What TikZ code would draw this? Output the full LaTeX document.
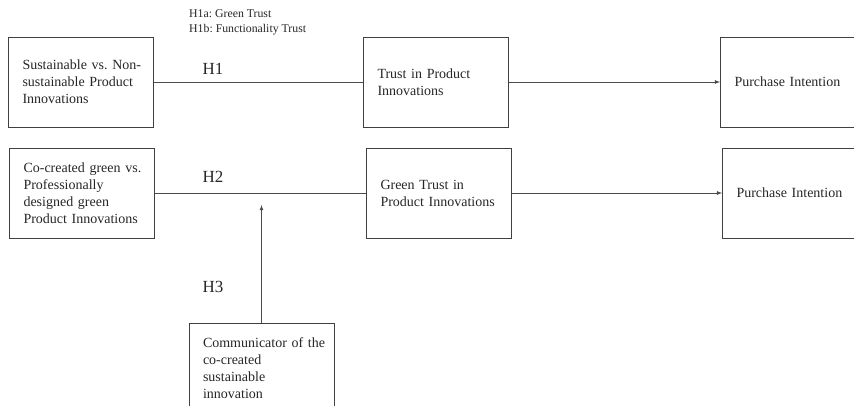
\documentclass[tikz,border=0pt]{standalone}
\usepackage{fontspec}
\setmainfont{Liberation Serif}
\usepackage{tikz}
\usetikzlibrary{positioning,arrows}
\frenchspacing

\begin{document}
\begin{tikzpicture}[x=1pt,y=1pt,every node/.style={on grid},
    box/.style={draw=black!75,line width=0.8pt,rectangle,minimum width=145pt,
      minimum height=90pt,text width=117pt,inner xsep=14pt,align=left,
      text=black!85,font=\fontsize{14}{17}\selectfont},
    hyp/.style={text=black!85,font=\fontsize{17}{20}\selectfont},
    link/.style={draw=black!70,line width=0.8pt}]
    \useasboundingbox (0,0) rectangle (854,-405);
    \node[box] (sus) at (81,-82) {\mbox{Sustainable vs. Non-}\\\mbox{sustainable Product}\\Innovations};
    \node[box,right=355pt of sus] (trust) {Trust in Product\\Innovations};
    \node[box,right=357pt of trust] (buyA) {Purchase Intention};
    \node[box] (cocr) at (82,-193) {\mbox{Co-created green vs.}\\Professionally\\designed green\\\mbox{Product Innovations}};
    \node[box,right=357pt of cocr] (gtrust) {Green Trust in\\\mbox{Product Innovations}};
    \node[box,right=356pt of gtrust] (buyB) {Purchase Intention};
    \node[box] (comm) at (261.5,-368) {\mbox{Communicator of the}\\co-created\\sustainable\\innovation};
    % hypotheses
    \node[hyp] (hA) at (213,-69) {H1};
    \node[hyp] (hB) at (213,-177) {H2};
    \node[hyp] (hC) at (213,-287) {H3};
    \node[anchor=north west,align=left,inner sep=0pt,text=black!85,
      font=\fontsize{11.8}{15}\selectfont] (sub) at (189,-9) {H1a: Green Trust\\H1b: Functionality Trust};
    \coordinate (mod) at (261.5,-205);
    \draw[link] (sus) -- (trust);
    \draw[link,-latex] (trust) -- (buyA);
    \draw[link] (cocr.east) -- (cocr.east -| gtrust.west);
    \draw[link,-latex] (gtrust.east |- buyB) -- (buyB);
    \draw[link,-latex] (comm) -- (mod);
  \end{tikzpicture}
\end{document}
